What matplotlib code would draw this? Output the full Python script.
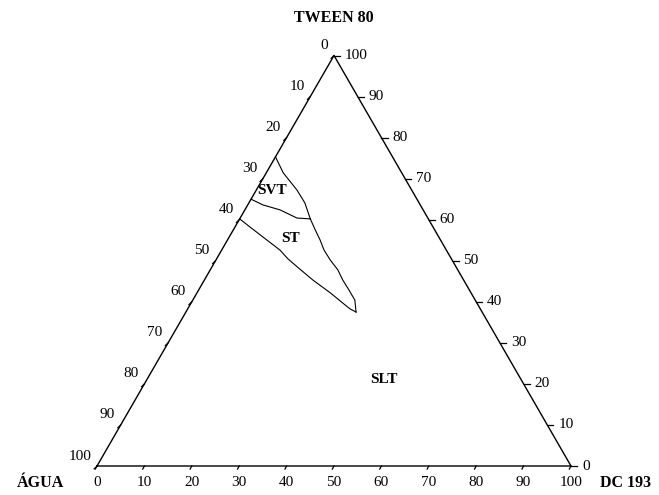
import numpy as np
import matplotlib
matplotlib.use('Agg')
import matplotlib.pyplot as plt

plt.rcParams['font.family'] = ['Liberation Serif', 'DejaVu Serif']

# Axis names
top_name = 'TWEEN 80'
left_name = 'ÁGUA'
right_name = 'DC 193'

tick_values = [0, 10, 20, 30, 40, 50, 60, 70, 80, 90, 100]

# Phase boundaries, as (% Tween 80, % DC 193)
svt_right_tween = [75.3, 71.4, 67.2, 64.1, 60.2]
svt_right_dc = [0.0, 3.6, 8.6, 11.8, 14.9]

svt_st_tween = [65.0, 63.6, 62.4, 60.4, 60.2]
svt_st_dc = [0.0, 3.2, 7.4, 12.0, 14.9]

st_right_tween = [60.2, 57.5, 55.1, 52.6, 50.2, 47.8, 45.3, 42.8, 40.4, 37.5]
st_right_dc = [14.9, 17.3, 19.5, 21.6, 24.1, 26.9, 29.2, 31.8, 34.2, 35.9]

st_low_tween = [60.2, 58.2, 55.8, 52.6, 50.5, 48.5, 45.3, 42.2, 39.7, 38.3, 37.5]
st_low_dc = [0.0, 3.2, 7.1, 12.3, 15.0, 18.0, 22.9, 28.1, 32.0, 34.2, 35.9]

region_names = ['SVT', 'ST', 'SLT']
region_tween = [67.0, 55.5, 21.0]
region_dc = [3.5, 13.0, 50.0]

H = np.sqrt(3) / 2


def to_xy(tween, dc):
    t = np.asarray(tween, dtype=float)
    d = np.asarray(dc, dtype=float)
    return d + t / 2, t * H


fig = plt.figure(figsize=(6.59, 4.95), dpi=100)
ax = fig.add_axes([0, 0, 1, 1])
ax.set_xlim(-97 / 4.74, (659 - 97) / 4.74)
ax.set_ylim((466 - 495) / 4.74, 466 / 4.74)
ax.axis('off')

# triangle
tx, ty = to_xy([0, 0, 100, 0], [0, 100, 0, 0])
ax.plot(tx, ty, color='black', lw=1.0, solid_joinstyle='miter')

# ticks and labels
for v in tick_values:
    # left side (agua): 0 at top, 100 at bottom-left
    x, y = to_xy(100 - v, 0)
    ax.plot([x, x - 0.6], [y, y - 0.6], color='black', lw=0.9)
    ax.text(x - 1.2, y + 2.1, str(v), ha='right', va='center', fontsize=11)
    # bottom (DC 193)
    x, y = to_xy(0, v)
    ax.plot([x, x - 0.35], [y, y - 0.65], color='black', lw=0.9)
    ax.text(x, y - 3.4, str(v), ha='center', va='center', fontsize=11)
    # right side (Tween 80)
    x, y = to_xy(v, 100 - v)
    ax.plot([x, x + 1.3], [y, y], color='black', lw=0.9)
    ax.text(x + 2.3, y, str(v), ha='left', va='center', fontsize=11)

# phase boundaries
for t, d in [(svt_right_tween, svt_right_dc), (svt_st_tween, svt_st_dc),
             (st_right_tween, st_right_dc), (st_low_tween, st_low_dc)]:
    x, y = to_xy(t, d)
    ax.plot(x, y, color='black', lw=0.8)

for name, t, d in zip(region_names, region_tween, region_dc):
    x, y = to_xy(t, d)
    ax.text(x, y, name, ha='center', va='center', fontsize=11, fontweight='bold')

ax.text(50, 94.5, top_name, ha='center', va='center', fontsize=11.5, fontweight='bold')
ax.text(-12.0, -3.6, left_name, ha='center', va='center', fontsize=11.5, fontweight='bold')
ax.text(111.6, -3.6, right_name, ha='center', va='center', fontsize=11.5, fontweight='bold')

fig.savefig('out.png', dpi=100)
